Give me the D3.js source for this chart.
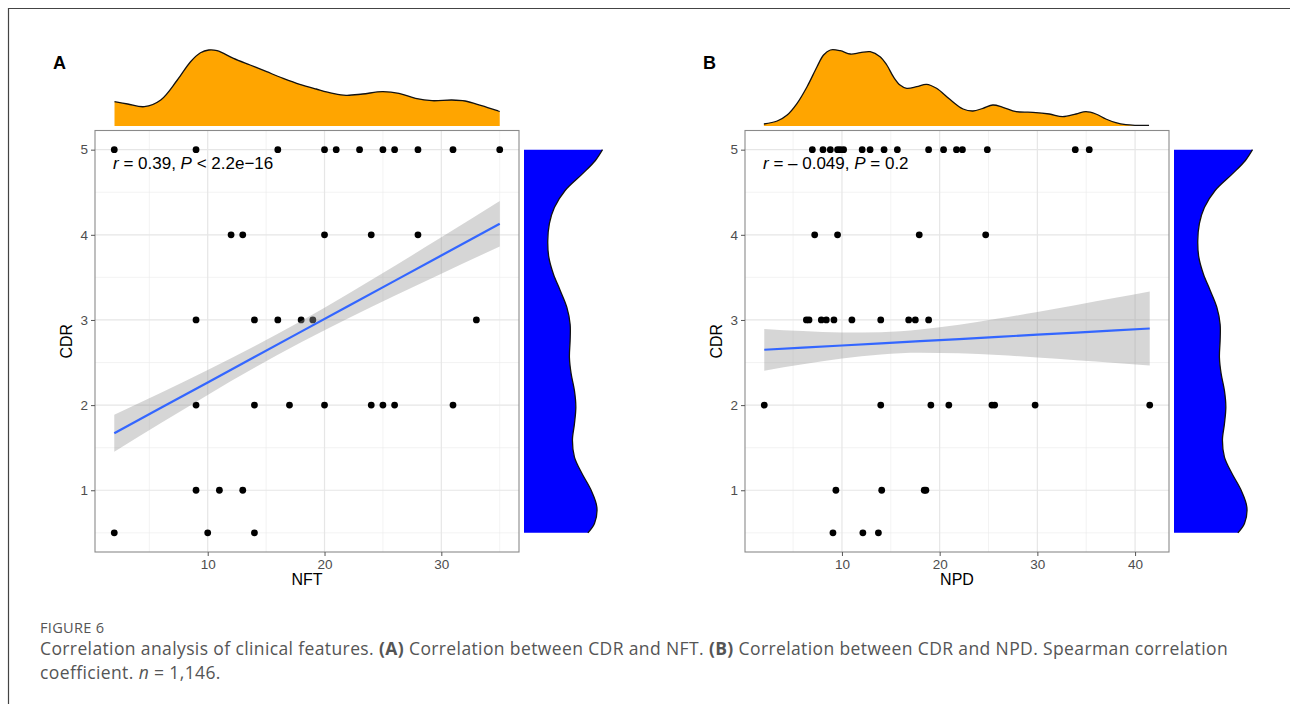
<!DOCTYPE html>
<html>
<head>
<meta charset="utf-8">
<script src="https://cdn.jsdelivr.net/npm/d3@7"></script>
<style>
  html, body { margin: 0; padding: 0; background: #fff; }
  svg { display: block; }
</style>
</head>
<body>
<svg id="fig" width="1290" height="704"></svg>
<script>
// ---- Panel A: CDR vs NFT (unique observed points) ----
const nftCdr5 = [2, 9, 16, 20, 21, 23, 25, 26, 28, 31, 35];
const nftCdr4 = [12, 13, 20, 24, 28];
const nftCdr3 = [9, 14, 16, 18, 19, 33];
const nftCdr2 = [9, 14, 17, 20, 24, 25, 26, 31];
const nftCdr1 = [9, 11, 13];
const nftCdr05 = [2, 10, 14];

// linear fit with 95% band, NFT panel
const nftFitX   = [2, 6, 10, 14, 18, 22, 26, 30, 35];
const nftFitY   = [1.670, 1.968, 2.266, 2.565, 2.863, 3.161, 3.459, 3.757, 4.130];
const nftFitSE  = [0.217, 0.178, 0.146, 0.127, 0.126, 0.144, 0.175, 0.213, 0.267];

// marginal density of NFT
const nftDensX = [2.02, 3.15, 4.57, 5.98, 7.40, 8.53, 9.38, 10.09, 10.80, 12.21, 13.63, 15.05, 16.46,
                  17.88, 19.29, 20.71, 21.84, 23.26, 24.95, 26.37, 27.79, 29.2, 30.9, 32.04, 33.45, 34.87, 35];
const nftDensY = [0.0243, 0.0220, 0.0193, 0.0260, 0.0460, 0.0643, 0.0733, 0.0760, 0.0753, 0.0677, 0.0610,
                  0.0543, 0.0477, 0.0417, 0.0370, 0.0327, 0.0307, 0.0320, 0.0343, 0.0327, 0.0277, 0.0253,
                  0.0260, 0.0250, 0.0203, 0.0150, 0.0145];

// ---- Panel B: CDR vs NPD ----
const npdCdr5 = [6.97, 8.06, 8.81, 9.55, 9.83, 10.17, 12.07, 12.88, 14.31, 15.67, 18.87, 20.4, 21.72, 22.33, 24.88, 33.88, 35.31];
const npdCdr4 = [7.21, 9.55, 17.91, 24.71];
const npdCdr3 = [6.36, 6.63, 7.89, 8.4, 9.18, 11.02, 13.97, 16.83, 17.51, 18.87];
const npdCdr2 = [2.05, 13.97, 19.1, 20.94, 25.35, 25.63, 29.77, 41.5];
const npdCdr1 = [9.38, 14.07, 18.42, 18.59];
const npdCdr05 = [9.08, 12.14, 13.73];

const npdFitX  = [2.05, 6, 10, 14, 18, 22, 26, 30, 34, 38, 41.5];
const npdFitY  = [2.650, 2.675, 2.700, 2.726, 2.751, 2.776, 2.802, 2.827, 2.852, 2.878, 2.900];
const npdFitSE = [0.245, 0.195, 0.154, 0.131, 0.137, 0.168, 0.214, 0.267, 0.324, 0.382, 0.435];

const npdDensX = [2.01, 3.37, 4.39, 5.41, 6.43, 7.45, 8.12, 8.81, 9.83, 10.85, 11.87, 12.89, 13.9, 14.59,
                  15.26, 15.94, 16.63, 17.65, 18.66, 19.68, 21.04, 22.4, 23.41, 24.43, 25.45, 26.47, 27.84,
                  29.53, 31.23, 32.59, 33.96, 34.97, 35.99, 37.01, 38.03, 39.05, 40.07, 41.43];
const npdDensY = [0.0020, 0.0050, 0.0110, 0.0227, 0.0393, 0.0593, 0.0710, 0.0760, 0.0753, 0.0720, 0.0733,
                  0.0743, 0.0693, 0.0610, 0.0493, 0.0410, 0.0377, 0.0393, 0.0417, 0.0377, 0.0267, 0.0170,
                  0.0150, 0.0177, 0.0210, 0.0187, 0.0143, 0.0137, 0.0120, 0.0093, 0.0120, 0.0143, 0.0120,
                  0.0070, 0.0033, 0.0013, 0.0007, 0.0007];

// marginal density of CDR (shared by both panels)
const cdrDensY = [5.0, 4.87, 4.71, 4.52, 4.32, 4.13, 3.93, 3.74, 3.54, 3.35, 3.15, 2.95, 2.76, 2.56,
                  2.37, 2.17, 1.98, 1.78, 1.59, 1.39, 1.20, 1.0, 0.80, 0.61, 0.5];
const cdrDensV = [0.783, 0.710, 0.577, 0.410, 0.303, 0.253, 0.237, 0.247, 0.293, 0.360, 0.427, 0.460,
                  0.460, 0.453, 0.470, 0.503, 0.517, 0.503, 0.483, 0.503, 0.577, 0.670, 0.727, 0.703, 0.637];

const cdrTicks = [1, 2, 3, 4, 5];
const cdrMinor = [0.5, 1.5, 2.5, 3.5, 4.5];

const panels = [
  { tag: "A", xName: "NFT", ox: 0, ticks: [10, 20, 30], minor: [5, 15, 25, 35],
    rows: [[5, nftCdr5], [4, nftCdr4], [3, nftCdr3], [2, nftCdr2], [1, nftCdr1], [0.5, nftCdr05]],
    fitX: nftFitX, fitY: nftFitY, fitSE: nftFitSE, densX: nftDensX, densY: nftDensY,
    label: [["r", true], [" = 0.39, ", false], ["P", true], [" < 2.2e\u221216", false]] },
  { tag: "B", xName: "NPD", ox: 650, ticks: [10, 20, 30, 40], minor: [5, 15, 25, 35],
    rows: [[5, npdCdr5], [4, npdCdr4], [3, npdCdr3], [2, npdCdr2], [1, npdCdr1], [0.5, npdCdr05]],
    fitX: npdFitX, fitY: npdFitY, fitSE: npdFitSE, densX: npdDensX, densY: npdDensY,
    label: [["r", true], [" = \u2013 0.049, ", false], ["P", true], [" = 0.2", false]] }
];

const svg = d3.select("#fig");
const FONT = "'Liberation Sans', Arial, Helvetica, sans-serif";

// page frame
svg.append("path").attr("d", "M8.5,704 V8.5 H1290")
  .attr("fill", "none").attr("stroke", "#444").attr("stroke-width", 1.2);

panels.forEach(p => {
  const left = 95 + p.ox, right = 519 + p.ox, top = 130.5, bottom = 552;
  const g = svg.append("g");

  const allX = p.rows.flatMap(r => r[1]);
  const [xmin, xmax] = d3.extent(allX);
  const padX = (xmax - xmin) * 0.05;
  const x = d3.scaleLinear().domain([xmin - padX, xmax + padX]).range([left, right]);
  const y = d3.scaleLinear().domain([0.5 - 0.225, 5 + 0.225]).range([bottom, top]);

  // grid
  g.append("g").selectAll("line.minx").data(p.minor.filter(v => x(v) < right)).join("line")
    .attr("x1", d => x(d)).attr("x2", d => x(d)).attr("y1", top).attr("y2", bottom)
    .attr("stroke", "#EBEBEB").attr("stroke-width", 0.6);
  g.append("g").selectAll("line.miny").data(cdrMinor).join("line")
    .attr("y1", d => y(d)).attr("y2", d => y(d)).attr("x1", left).attr("x2", right)
    .attr("stroke", "#EBEBEB").attr("stroke-width", 0.6);
  g.append("g").selectAll("line.majx").data(p.ticks).join("line")
    .attr("x1", d => x(d)).attr("x2", d => x(d)).attr("y1", top).attr("y2", bottom)
    .attr("stroke", "#E6E6E6").attr("stroke-width", 1.2);
  g.append("g").selectAll("line.majy").data(cdrTicks).join("line")
    .attr("y1", d => y(d)).attr("y2", d => y(d)).attr("x1", left).attr("x2", right)
    .attr("stroke", "#E6E6E6").attr("stroke-width", 1.2);

  // points
  const pts = p.rows.flatMap(([cdr, xs]) => xs.map(v => ({ x: v, y: cdr })));
  g.append("g").selectAll("circle").data(pts).join("circle")
    .attr("cx", d => x(d.x)).attr("cy", d => y(d.y)).attr("r", 3.4).attr("fill", "#000");

  // confidence band and fitted line
  const fit = p.fitX.map((v, i) => ({ x: v, y: p.fitY[i], se: p.fitSE[i] }));
  g.append("path").datum(fit)
    .attr("d", d3.area().curve(d3.curveMonotoneX)
      .x(d => x(d.x)).y0(d => y(d.y - d.se)).y1(d => y(d.y + d.se)))
    .attr("fill", "#999999").attr("fill-opacity", 0.4);
  g.append("path").datum(fit)
    .attr("d", d3.line().x(d => x(d.x)).y(d => y(d.y)))
    .attr("fill", "none").attr("stroke", "#3366FF").attr("stroke-width", 2.2);

  // panel border
  g.append("rect").attr("x", left).attr("y", top).attr("width", right - left).attr("height", bottom - top)
    .attr("fill", "none").attr("stroke", "#8a8a8a").attr("stroke-width", 1.1);

  // axes
  const xAxis = g.append("g").attr("transform", `translate(0,${bottom})`)
    .call(d3.axisBottom(x).tickValues(p.ticks).tickSize(4).tickPadding(3).tickFormat(d3.format("d")));
  const yAxis = g.append("g").attr("transform", `translate(${left},0)`)
    .call(d3.axisLeft(y).tickValues(cdrTicks).tickSize(4).tickPadding(3).tickFormat(d3.format("d")));
  [xAxis, yAxis].forEach(a => {
    a.select(".domain").remove();
    a.selectAll(".tick line").attr("stroke", "#555").attr("stroke-width", 1);
    a.selectAll(".tick text").attr("fill", "#4D4D4D").attr("font-family", FONT).attr("font-size", 13.5);
  });

  // axis titles
  g.append("text").attr("x", (left + right) / 2).attr("y", 585).attr("text-anchor", "middle")
    .attr("font-family", FONT).attr("font-size", 16).attr("fill", "#000").text(p.xName);
  g.append("text").attr("transform", `translate(${72 + p.ox},${(top + bottom) / 2}) rotate(-90)`)
    .attr("text-anchor", "middle").attr("font-family", FONT).attr("font-size", 16)
    .attr("fill", "#000").text("CDR");

  // correlation label
  const lab = g.append("text").attr("x", 113 + p.ox).attr("y", 168.5)
    .attr("font-family", FONT).attr("font-size", 17).attr("fill", "#000");
  p.label.forEach(([t, it]) => lab.append("tspan").attr("font-style", it ? "italic" : "normal").text(t));

  // panel tag
  svg.append("text").attr("x", 53 + p.ox).attr("y", 69).attr("font-family", FONT)
    .attr("font-size", 18).attr("font-weight", "bold").attr("fill", "#000").text(p.tag);

  // top marginal density
  const dens = p.densX.map((v, i) => ({ x: v, d: p.densY[i] }));
  const yd = d3.scaleLinear().domain([0, d3.max(p.densY)]).range([126, 50]);
  g.append("path").datum(dens)
    .attr("d", d3.area().curve(d3.curveCatmullRom).x(d => x(d.x)).y0(126).y1(d => yd(d.d)))
    .attr("fill", "#FFA500");
  g.append("path").datum(dens)
    .attr("d", d3.line().curve(d3.curveCatmullRom).x(d => x(d.x)).y(d => yd(d.d)))
    .attr("fill", "none").attr("stroke", "#111").attr("stroke-width", 1.3);

  // right marginal density
  const cd = cdrDensY.map((v, i) => ({ y: v, d: cdrDensV[i] }));
  const xr = d3.scaleLinear().domain([0, d3.max(cdrDensV)]).range([524 + p.ox, 602.5 + p.ox]);
  g.append("path").datum(cd)
    .attr("d", d3.area().curve(d3.curveCatmullRom).y(d => y(d.y)).x0(524 + p.ox).x1(d => xr(d.d)))
    .attr("fill", "#0000FF");
  g.append("path").datum(cd)
    .attr("d", d3.line().curve(d3.curveCatmullRom).y(d => y(d.y)).x(d => xr(d.d)))
    .attr("fill", "none").attr("stroke", "#111").attr("stroke-width", 1.3);
});

// caption
const CAP = "'Open Sans', 'Noto Sans', sans-serif";
const fig = svg.append("text").attr("x", 40).attr("y", 633).attr("font-family", CAP).attr("font-size", 12)
  .attr("fill", "#555").attr("letter-spacing", 0.3).text("FIGURE 6");
fig.attr("font-size", 12 * 65 / fig.node().getComputedTextLength());

const line1 = [
  ["Correlation analysis of clinical features. ", ""], ["(A)", "b"],
  [" Correlation between CDR and NFT. ", ""], ["(B)", "b"],
  [" Correlation between CDR and NPD. Spearman correlation", ""]
];
const line2 = [["coefficient. ", ""], ["n", "i"], [" = 1,146.", ""]];
function capLine(parts, yPos) {
  const t = svg.append("text").attr("x", 40).attr("y", yPos).attr("font-family", CAP)
    .attr("font-size", 17.5).attr("fill", "#555");
  parts.forEach(([s, st]) => t.append("tspan")
    .attr("font-weight", st === "b" ? "bold" : "normal")
    .attr("font-style", st === "i" ? "italic" : "normal").text(s));
  return t;
}
const c1 = capLine(line1, 655);
const c2 = capLine(line2, 679);
// spread the first caption line across its column width
const nChars = line1.map(d => d[0]).join("").length;
const ls = Math.max(0, (1188 - c1.node().getComputedTextLength()) / nChars);
c1.attr("letter-spacing", ls);
c2.attr("letter-spacing", ls);
</script>
</body>
</html>
